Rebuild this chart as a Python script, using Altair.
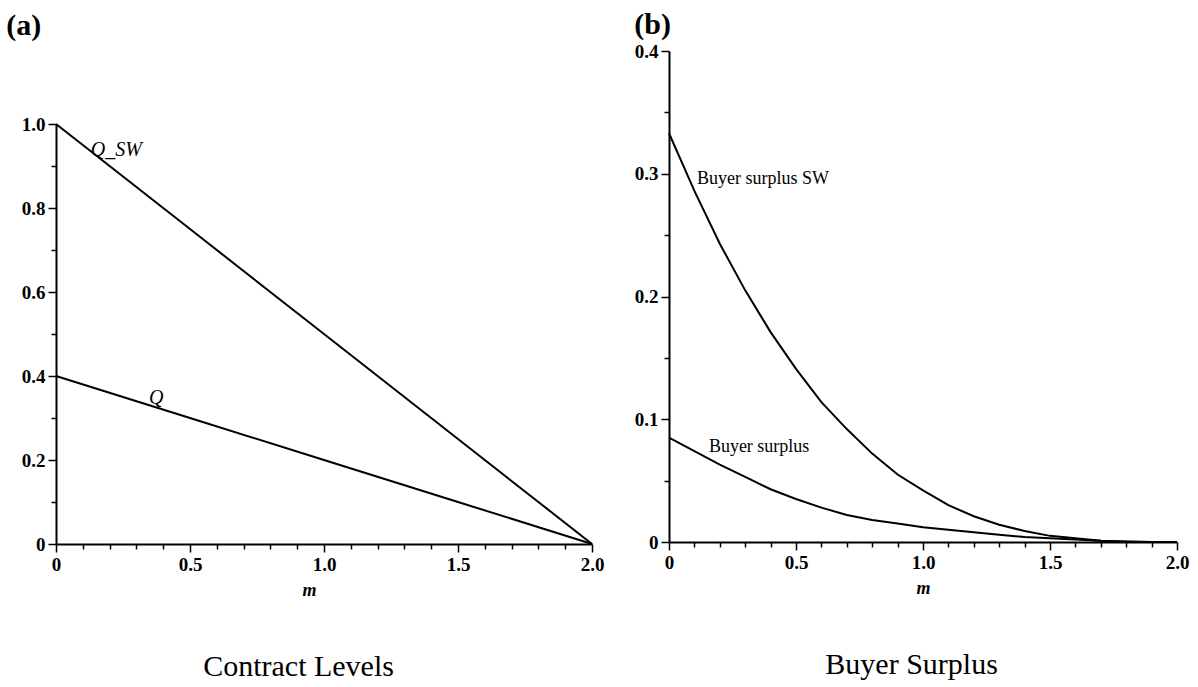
import altair as alt
import pandas as pd

# Panel (a): contract levels against m
m_lin = [0.0, 0.5, 1.0, 1.5, 2.0]
q_sw = [1.0, 0.75, 0.5, 0.25, 0.0]
q_level = [0.4, 0.3, 0.2, 0.1, 0.0]

# Panel (b): buyer surplus against m
m_bs = [0.0, 0.1, 0.2, 0.3, 0.4, 0.5, 0.6, 0.7, 0.8, 0.9, 1.0,
        1.1, 1.2, 1.3, 1.4, 1.5, 1.6, 1.7, 1.8, 1.9, 2.0]
bs_sw = [0.333, 0.286, 0.243, 0.205, 0.171, 0.141, 0.114, 0.092, 0.072, 0.055, 0.042,
         0.030, 0.021, 0.014, 0.009, 0.005, 0.003, 0.001, 0.0003, 0.0, 0.0]
bs = [0.085, 0.074, 0.063, 0.053, 0.043, 0.035, 0.028, 0.022, 0.018, 0.015, 0.012,
      0.010, 0.008, 0.006, 0.004, 0.003, 0.002, 0.001, 0.0005, 0.0, 0.0]

# Tick positions: all ticks, and the labelled (longer) ones
x_ticks = [0.0, 0.1, 0.2, 0.3, 0.4, 0.5, 0.6, 0.7, 0.8, 0.9, 1.0,
           1.1, 1.2, 1.3, 1.4, 1.5, 1.6, 1.7, 1.8, 1.9, 2.0]
x_major = [0.0, 0.5, 1.0, 1.5, 2.0]
ya_ticks = [0.0, 0.1, 0.2, 0.3, 0.4, 0.5, 0.6, 0.7, 0.8, 0.9, 1.0]
ya_major = [0.0, 0.2, 0.4, 0.6, 0.8, 1.0]
yb_ticks = [0.0, 0.05, 0.1, 0.15, 0.2, 0.25, 0.3, 0.35, 0.4]
yb_major = [0.0, 0.1, 0.2, 0.3, 0.4]

# Curve labels
labels_a = ["Q_SW", "Q"]
labels_a_m = [0.13, 0.347]
labels_a_v = [0.924, 0.333]
labels_b = ["Buyer surplus SW", "Buyer surplus"]
labels_b_m = [0.11, 0.157]
labels_b_v = [0.292, 0.073]

SERIF = "Liberation Serif"


def make_axis(values, majors, title=None, title_x=None):
    test = "indexof([" + ",".join(str(v) for v in majors) + "], datum.value) >= 0"
    kw = dict(
        values=values,
        labelExpr=f"({test}) ? (datum.value == 0 ? '0' : format(datum.value, '.1f')) : ''",
        labelFont=SERIF, labelFontWeight="bold", labelFontSize=19, labelColor="black",
        labelPadding=3, labelOverlap=False, labelFlush=False,
        tickSize={"condition": {"test": test, "value": 8}, "value": 5},
        tickColor="black", tickWidth=1.5,
        domainColor="black", domainWidth=2, grid=False,
    )
    if title:
        kw.update(title=title, titleFont=SERIF, titleFontStyle="italic",
                  titleFontWeight="bold", titleFontSize=18, titleColor="black",
                  titlePadding=7)
        if title_x is not None:
            kw.update(titleX=title_x)
    else:
        kw.update(title=None)
    return alt.Axis(**kw)


df_a = pd.DataFrame({
    "m": m_lin + m_lin,
    "value": q_sw + q_level,
    "series": ["Q_SW"] * len(m_lin) + ["Q"] * len(m_lin),
})
df_b = pd.DataFrame({
    "m": m_bs + m_bs,
    "value": bs_sw + bs,
    "series": ["SW"] * len(m_bs) + ["BS"] * len(m_bs),
})
lab_a = pd.DataFrame({"m": labels_a_m, "value": labels_a_v, "text": labels_a})
lab_b = pd.DataFrame({"m": labels_b_m, "value": labels_b_v, "text": labels_b})

xa = alt.X("m:Q", scale=alt.Scale(domain=[0, 2], nice=False, zero=False),
           axis=make_axis(x_ticks, x_major, "m", title_x=253))
ya = alt.Y("value:Q", scale=alt.Scale(domain=[0, 1], nice=False),
           axis=make_axis(ya_ticks, ya_major))
xb = alt.X("m:Q", scale=alt.Scale(domain=[0, 2], nice=False, zero=False),
           axis=make_axis(x_ticks, x_major, "m"))
yb = alt.Y("value:Q", scale=alt.Scale(domain=[0, 0.4], nice=False),
           axis=make_axis(yb_ticks, yb_major))

lines_a = alt.Chart(df_a).mark_line(color="black", strokeWidth=2).encode(
    x=xa, y=ya, detail="series:N")
text_a = alt.Chart(lab_a).mark_text(
    align="left", baseline="alphabetic", font=SERIF, fontStyle="italic",
    fontSize=20, color="black").encode(x=xa, y=ya, text="text:N")

lines_b = alt.Chart(df_b).mark_line(color="black", strokeWidth=2).encode(
    x=xb, y=yb, detail="series:N")
text_b = alt.Chart(lab_b).mark_text(
    align="left", baseline="alphabetic", font=SERIF,
    fontSize=18, color="black").encode(x=xb, y=yb, text="text:N")

inner_a = alt.layer(lines_a, text_a).properties(
    width=536, height=420,
    title=alt.TitleParams("Contract Levels", orient="bottom", anchor="middle",
                          frame="bounds", font=SERIF, fontSize=30,
                          fontWeight="normal", color="black", offset=53, dx=-14))
inner_b = alt.layer(lines_b, text_b).properties(
    width=508, height=491,
    title=alt.TitleParams("Buyer Surplus", orient="bottom", anchor="middle",
                          frame="bounds", font=SERIF, fontSize=30,
                          fontWeight="normal", color="black", offset=53))

# Empty band above panel (a) so that both plots share a baseline
spacer_a = alt.Chart(pd.DataFrame({"m": [0.0], "value": [0.0]})).mark_point(
    opacity=0).encode(
    x=alt.X("m:Q", axis=None), y=alt.Y("value:Q", axis=None)
).properties(width=536, height=64)

panel_a = alt.vconcat(spacer_a, inner_a, spacing=0, title=alt.TitleParams(
    "(a)", anchor="start", frame="bounds", font=SERIF, fontSize=30,
    fontWeight="bold", color="black", offset=10, dx=-15))
panel_b = alt.vconcat(inner_b, title=alt.TitleParams(
    "(b)", anchor="start", frame="bounds", font=SERIF, fontSize=30,
    fontWeight="bold", color="black", offset=2, dx=0))

chart = alt.hconcat(panel_a, panel_b, spacing=30).properties(
    padding={"left": 6, "top": 10, "right": 5, "bottom": 5},
    background="white",
).configure_view(strokeWidth=0).configure_axis(labelOverlap=False)

chart.save("out.html", embed_options={"renderer": "svg", "actions": False})
